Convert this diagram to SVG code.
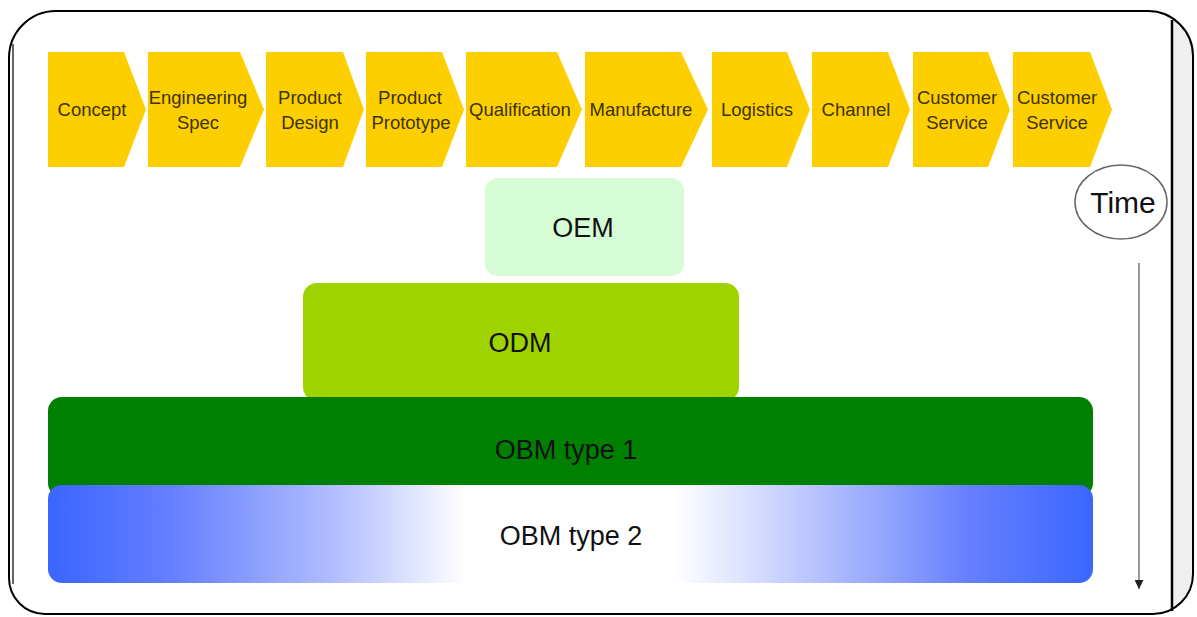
<svg xmlns="http://www.w3.org/2000/svg" width="1197" height="617" viewBox="0 0 1197 617">
  <defs>
    <style>
      .step { fill: #fecf00; }
      .step-label { font-family: "Liberation Sans", Arial, sans-serif; font-size: 18.5px; fill: #3d3300; text-anchor: middle; }
      .tier-label { font-family: "Liberation Sans", Arial, sans-serif; font-size: 27px; fill: #111111; text-anchor: middle; }
      .frame { fill: none; stroke: #000000; stroke-width: 2; }
    </style>
    <clipPath id="frameClip">
      <path d="M 56 11 H 1148 A 45 45 0 0 1 1193 56 V 574 A 40 40 0 0 1 1153 614 H 45 A 36 36 0 0 1 9 578 V 58 A 47 47 0 0 1 56 11 Z"/>
    </clipPath>
    <linearGradient id="obm2Fill" x1="0" y1="0" x2="1" y2="0">
      <stop offset="0" stop-color="#3a66ff"/>
      <stop offset="0.12" stop-color="#6680ff"/>
      <stop offset="0.28" stop-color="#b4c0ff"/>
      <stop offset="0.40" stop-color="#ffffff"/>
      <stop offset="0.60" stop-color="#ffffff"/>
      <stop offset="0.74" stop-color="#b4c0ff"/>
      <stop offset="0.88" stop-color="#6680ff"/>
      <stop offset="1" stop-color="#3a66ff"/>
    </linearGradient>
    <marker id="arrowDown" viewBox="0 0 10 10" refX="10" refY="5" markerWidth="10" markerHeight="9" markerUnits="userSpaceOnUse" orient="auto">
      <path d="M 0 0 L 10 5 L 0 10 Z" fill="#222222"/>
    </marker>
  </defs>

  <!-- page frame -->
  <g id="frame">
    <path d="M 56 11 H 1148 A 45 45 0 0 1 1193 56 V 574 A 40 40 0 0 1 1153 614 H 45 A 36 36 0 0 1 9 578 V 58 A 47 47 0 0 1 56 11 Z" fill="#ffffff"/>
    <rect x="1172" y="0" width="25" height="617" fill="#efefef" clip-path="url(#frameClip)"/>
    <line x1="1172" y1="20" x2="1172" y2="611" stroke="#000000" stroke-width="2.5"/>
    <line x1="13" y1="44" x2="13" y2="584" stroke="#000000" stroke-width="1.2"/>
    <path class="frame" d="M 56 11 H 1148 A 45 45 0 0 1 1193 56 V 574 A 40 40 0 0 1 1153 614 H 45 A 36 36 0 0 1 9 578 V 58 A 47 47 0 0 1 56 11 Z"/>
  </g>

  <!-- value chain steps -->
  <g id="step-concept">
    <polygon class="step" points="48,52 124,52 146,109.5 124,167 48,167"/>
    <text class="step-label" x="92" y="116">Concept</text>
  </g>
  <g id="step-engineering-spec">
    <polygon class="step" points="148,52 240,52 264,109.5 240,167 148,167"/>
    <text class="step-label" x="198" y="104">Engineering</text>
    <text class="step-label" x="198" y="129">Spec</text>
  </g>
  <g id="step-product-design">
    <polygon class="step" points="266,52 343,52 364,109.5 343,167 266,167"/>
    <text class="step-label" x="310" y="104">Product</text>
    <text class="step-label" x="310" y="129">Design</text>
  </g>
  <g id="step-product-prototype">
    <polygon class="step" points="366,52 442,52 464,109.5 442,167 366,167"/>
    <text class="step-label" x="410" y="104">Product</text>
    <text class="step-label" x="411" y="129">Prototype</text>
  </g>
  <g id="step-qualification">
    <polygon class="step" points="466,52 557,52 582,109.5 557,167 466,167"/>
    <text class="step-label" x="520" y="116">Qualification</text>
  </g>
  <g id="step-manufacture">
    <polygon class="step" points="585,52 681,52 708,109.5 681,167 585,167"/>
    <text class="step-label" x="641" y="116">Manufacture</text>
  </g>
  <g id="step-logistics">
    <polygon class="step" points="712,52 787,52 810,109.5 787,167 712,167"/>
    <text class="step-label" x="757" y="116">Logistics</text>
  </g>
  <g id="step-channel">
    <polygon class="step" points="812,52 888,52 910,109.5 888,167 812,167"/>
    <text class="step-label" x="856" y="116">Channel</text>
  </g>
  <g id="step-customer-service-1">
    <polygon class="step" points="913,52 988,52 1010,109.5 988,167 913,167"/>
    <text class="step-label" x="957" y="104">Customer</text>
    <text class="step-label" x="957" y="129">Service</text>
  </g>
  <g id="step-customer-service-2">
    <polygon class="step" points="1013,52 1090,52 1112,109.5 1090,167 1013,167"/>
    <text class="step-label" x="1057" y="104">Customer</text>
    <text class="step-label" x="1057" y="129">Service</text>
  </g>

  <!-- business model tiers -->
  <g id="tier-oem">
    <rect x="485" y="178" width="199" height="98" rx="13" fill="#d6fcd6"/>
    <text class="tier-label" x="583" y="237">OEM</text>
  </g>
  <g id="tier-odm">
    <rect x="303" y="283" width="436" height="118" rx="14" fill="#9fd300"/>
    <text class="tier-label" x="520" y="352">ODM</text>
  </g>
  <g id="tier-obm-1">
    <rect x="48" y="397" width="1045" height="100" rx="14" fill="#008000"/>
    <text class="tier-label" x="566" y="459">OBM type 1</text>
  </g>
  <g id="tier-obm-2">
    <rect x="48" y="485" width="1045" height="98" rx="14" fill="url(#obm2Fill)"/>
    <text class="tier-label" x="571" y="545">OBM type 2</text>
  </g>

  <!-- time axis -->
  <g id="time">
    <ellipse cx="1121" cy="202" rx="46" ry="37" fill="#ffffff" stroke="#666666" stroke-width="1.5"/>
    <text x="1123" y="213" font-family="'Liberation Sans', Arial, sans-serif" font-size="30" fill="#111111" text-anchor="middle">Time</text>
  </g>
  <g id="connectors">
    <line x1="1139" y1="263" x2="1139" y2="589" stroke="#777777" stroke-width="1.5" marker-end="url(#arrowDown)"/>
  </g>
</svg>
